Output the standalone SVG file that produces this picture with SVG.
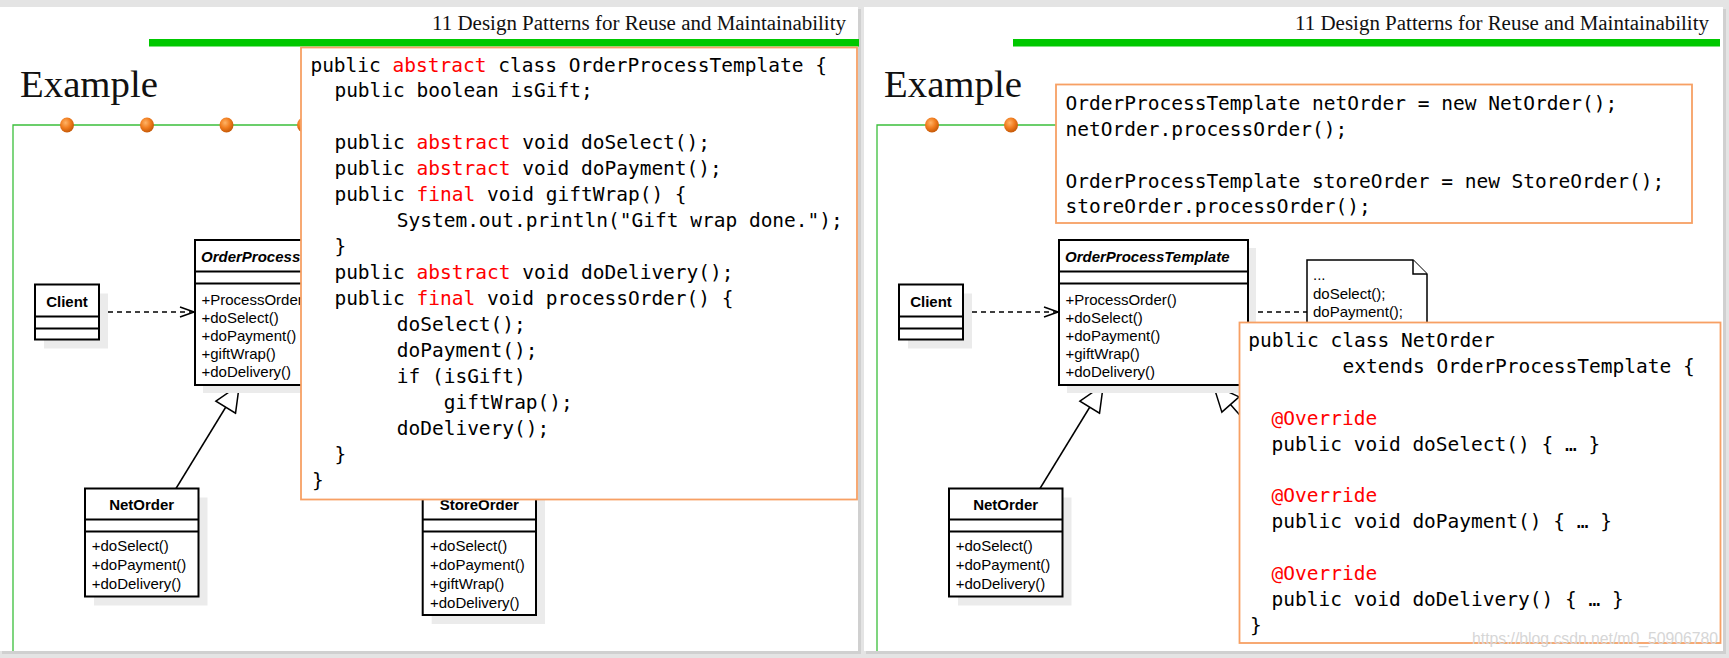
<svg xmlns="http://www.w3.org/2000/svg" width="1729" height="658" viewBox="0 0 1729 658">
<defs>
<radialGradient id="dotg" cx="40%" cy="35%" r="65%">
<stop offset="0" stop-color="#ffb366"/>
<stop offset="0.55" stop-color="#f07c1e"/>
<stop offset="1" stop-color="#c65a08"/>
</radialGradient>
<clipPath id="notcode">
<path d="M0,0 H1729 V658 H0 Z M301,47.5 V499.5 H857 V47.5 Z" clip-rule="evenodd"/>
</clipPath>
<marker id="open" markerUnits="userSpaceOnUse" markerWidth="16" markerHeight="12" viewBox="0 0 16 12" refX="15" refY="6" orient="auto">
<path d="M1,1 L15,6 L1,11" fill="none" stroke="#000" stroke-width="1.5"/>
</marker>
<marker id="tri" markerUnits="userSpaceOnUse" markerWidth="29" markerHeight="26" viewBox="0 0 29 26" refX="27.5" refY="13" orient="auto">
<path d="M1.5,1.5 L27.5,13 L1.5,24.5 Z" fill="#fff" stroke="#000" stroke-width="1.5"/>
</marker>
<style>
.panel{fill:#fff}
.pshadow{fill:#d0d0d0}
.hdr{font-family:"Liberation Serif","DejaVu Serif",serif;font-size:20px;fill:#111}
.ttl{font-family:"Liberation Serif","DejaVu Serif",serif;font-size:38px;fill:#111}
.gbar{fill:#00c800}
.gline{stroke:#3bbf3b;stroke-width:1.3;fill:none}
.dot{fill:url(#dotg)}
.codebox{fill:#fff;stroke:#f7a064;stroke-width:1.8}
.code{font-family:"DejaVu Sans Mono","Liberation Mono",monospace;font-size:19.5px;fill:#000}
.kw{fill:#ff0000}
.box{fill:#fff;stroke:#000;stroke-width:2}
.sep{stroke:#000;stroke-width:2}
.shd{fill:#ebebeb}
.t{font-family:"Liberation Sans",Arial,sans-serif;font-size:15px;fill:#000}
.b{font-weight:bold}
.bi{font-weight:bold;font-style:italic}
.conn{stroke:#000;stroke-width:1.5;fill:none}
.dash{stroke-dasharray:5 4}
.note{fill:#fff;stroke:#000;stroke-width:1.5}
.wm{font-family:"Liberation Sans",Arial,sans-serif;font-size:16px;fill:#d6d6d6}
</style>
</defs>

<rect x="0" y="0" width="1729" height="658" fill="#e4e4e4"/>
<rect class="pshadow" x="2" y="9" width="859" height="645"/>
<rect class="pshadow" x="866" y="9" width="860" height="645"/>
<rect class="panel" x="0" y="7" width="858" height="644"/>
<rect class="panel" x="864" y="7" width="859" height="644"/>

<!-- LEFT PANEL -->
<g id="left-header">
<text class="hdr" x="846" y="30" text-anchor="end" textLength="414" lengthAdjust="spacingAndGlyphs">11 Design Patterns for Reuse and Maintainability</text>
<rect class="gbar" x="149" y="39" width="710" height="7.5"/>
<text class="ttl" x="20" y="96.5" textLength="138" lengthAdjust="spacingAndGlyphs">Example</text>
<path class="gline" d="M13,651 V125 H304"/>
<ellipse class="dot" cx="67" cy="125" rx="7" ry="7.5"/>
<ellipse class="dot" cx="147" cy="125" rx="7" ry="7.5"/>
<ellipse class="dot" cx="226.5" cy="125" rx="7" ry="7.5"/>
<ellipse class="dot" cx="304" cy="125" rx="7" ry="7.5"/>
</g>

<g id="left-connectors">
<line class="conn dash" x1="99" y1="312" x2="194" y2="312" marker-end="url(#open)"/>
<line class="conn" x1="176" y1="488.5" x2="239.3" y2="385" marker-end="url(#tri)"/>
</g>

<g id="left-client">
<rect class="shd" x="44" y="293.5" width="64" height="55"/>
<rect class="box" x="35" y="284.5" width="64" height="55"/>
<line class="sep" x1="35" y1="316.5" x2="99" y2="316.5"/>
<line class="sep" x1="35" y1="328.5" x2="99" y2="328.5"/>
<text class="t b" x="67" y="307" text-anchor="middle">Client</text>
</g>

<g id="left-template" clip-path="url(#notcode)">
<rect class="shd" x="203" y="248" width="189" height="145"/>
<rect class="box" x="195" y="240" width="189" height="145"/>
<line class="sep" x1="195" y1="271.5" x2="384" y2="271.5"/>
<line class="sep" x1="195" y1="283.5" x2="384" y2="283.5"/>
<text class="t bi" x="201" y="262">OrderProcessTemplate</text>
<text class="t" x="201.5" y="304.5">+ProcessOrder()</text>
<text class="t" x="201.5" y="322.7">+doSelect()</text>
<text class="t" x="201.5" y="340.9">+doPayment()</text>
<text class="t" x="201.5" y="359.1">+giftWrap()</text>
<text class="t" x="201.5" y="377.3">+doDelivery()</text>
</g>

<g id="left-netorder">
<rect class="shd" x="94" y="497.5" width="113.5" height="108"/>
<rect class="box" x="85" y="488.5" width="113.5" height="108"/>
<line class="sep" x1="85" y1="519.5" x2="198.5" y2="519.5"/>
<line class="sep" x1="85" y1="531.5" x2="198.5" y2="531.5"/>
<text class="t b" x="141.7" y="510.4" text-anchor="middle">NetOrder</text>
<text class="t" x="91.7" y="551.4">+doSelect()</text>
<text class="t" x="91.7" y="570.3">+doPayment()</text>
<text class="t" x="91.7" y="589.2">+doDelivery()</text>
</g>

<g id="left-storeorder" clip-path="url(#notcode)">
<rect class="shd" x="431.7" y="497.5" width="113.3" height="126.5"/>
<rect class="box" x="422.7" y="488.5" width="113.3" height="126.5"/>
<line class="sep" x1="422.7" y1="519.5" x2="536" y2="519.5"/>
<line class="sep" x1="422.7" y1="531.5" x2="536" y2="531.5"/>
<text class="t b" x="479.3" y="510.4" text-anchor="middle">StoreOrder</text>
<text class="t" x="430" y="551.4">+doSelect()</text>
<text class="t" x="430" y="570.3">+doPayment()</text>
<text class="t" x="430" y="589.2">+giftWrap()</text>
<text class="t" x="430" y="608.1">+doDelivery()</text>
</g>

<g id="left-code">
<rect class="codebox" x="301" y="47.5" width="556" height="452"/>
<text class="code" xml:space="preserve" x="310.4" y="71.5">public <tspan class="kw">abstract</tspan> class OrderProcessTemplate {</text>
<text class="code" xml:space="preserve" x="334.4" y="97.4">public boolean isGift;</text>
<text class="code" xml:space="preserve" x="334.4" y="149.3">public <tspan class="kw">abstract</tspan> void doSelect();</text>
<text class="code" xml:space="preserve" x="334.4" y="175.3">public <tspan class="kw">abstract</tspan> void doPayment();</text>
<text class="code" xml:space="preserve" x="334.4" y="201.2">public <tspan class="kw">final</tspan> void giftWrap() {</text>
<text class="code" xml:space="preserve" x="396.7" y="227.1">System.out.println("Gift wrap done.");</text>
<text class="code" xml:space="preserve" x="334.4" y="253.1">}</text>
<text class="code" xml:space="preserve" x="334.4" y="279">public <tspan class="kw">abstract</tspan> void doDelivery();</text>
<text class="code" xml:space="preserve" x="334.4" y="305">public <tspan class="kw">final</tspan> void processOrder() {</text>
<text class="code" xml:space="preserve" x="396.7" y="330.9">doSelect();</text>
<text class="code" xml:space="preserve" x="396.7" y="356.8">doPayment();</text>
<text class="code" xml:space="preserve" x="396.7" y="382.8">if (isGift)</text>
<text class="code" xml:space="preserve" x="443.7" y="408.7">giftWrap();</text>
<text class="code" xml:space="preserve" x="396.7" y="434.6">doDelivery();</text>
<text class="code" xml:space="preserve" x="334.4" y="460.6">}</text>
<text class="code" xml:space="preserve" x="312" y="486.5">}</text>
</g>

<!-- RIGHT PANEL -->
<g id="right-header">
<text class="hdr" x="1709" y="30" text-anchor="end" textLength="414" lengthAdjust="spacingAndGlyphs">11 Design Patterns for Reuse and Maintainability</text>
<rect class="gbar" x="1013" y="39" width="707" height="7.5"/>
<text class="ttl" x="884" y="96.5" textLength="138" lengthAdjust="spacingAndGlyphs">Example</text>
<path class="gline" d="M877,651 V125 H1057"/>
<ellipse class="dot" cx="932" cy="125" rx="7" ry="7.5"/>
<ellipse class="dot" cx="1011" cy="125" rx="7" ry="7.5"/>
</g>

<g id="right-usage-code">
<rect class="codebox" x="1056" y="84.5" width="636" height="138.5"/>
<text class="code" xml:space="preserve" x="1065.5" y="109.8">OrderProcessTemplate netOrder = new NetOrder();</text>
<text class="code" xml:space="preserve" x="1065.5" y="135.7">netOrder.processOrder();</text>
<text class="code" xml:space="preserve" x="1065.5" y="187.5">OrderProcessTemplate storeOrder = new StoreOrder();</text>
<text class="code" xml:space="preserve" x="1065.5" y="213.4">storeOrder.processOrder();</text>
</g>

<g id="right-connectors">
<line class="conn dash" x1="963" y1="312" x2="1058" y2="312" marker-end="url(#open)"/>
<line class="conn" x1="1040" y1="488.5" x2="1103.3" y2="385" marker-end="url(#tri)"/>
<line class="conn" x1="1304" y1="488" x2="1213.3" y2="385" marker-end="url(#tri)"/>
<line class="conn dash" x1="1249" y1="312" x2="1307" y2="312"/>
</g>

<g id="right-client">
<rect class="shd" x="908" y="293.5" width="64" height="55"/>
<rect class="box" x="899" y="284.5" width="64" height="55"/>
<line class="sep" x1="899" y1="316.5" x2="963" y2="316.5"/>
<line class="sep" x1="899" y1="328.5" x2="963" y2="328.5"/>
<text class="t b" x="931" y="307" text-anchor="middle">Client</text>
</g>

<g id="right-template">
<rect class="shd" x="1067" y="248" width="189" height="145"/>
<rect class="box" x="1059" y="240" width="189" height="145"/>
<line class="sep" x1="1059" y1="271.5" x2="1248" y2="271.5"/>
<line class="sep" x1="1059" y1="283.5" x2="1248" y2="283.5"/>
<text class="t bi" x="1065" y="262">OrderProcessTemplate</text>
<text class="t" x="1065.5" y="304.5">+ProcessOrder()</text>
<text class="t" x="1065.5" y="322.7">+doSelect()</text>
<text class="t" x="1065.5" y="340.9">+doPayment()</text>
<text class="t" x="1065.5" y="359.1">+giftWrap()</text>
<text class="t" x="1065.5" y="377.3">+doDelivery()</text>
</g>

<g id="right-note">
<path class="note" d="M1307,345 V260 H1413 L1427,274 V345 Z"/>
<path class="note" d="M1413,260 V274 H1427"/>
<text class="t" x="1313" y="280">...</text>
<text class="t" x="1313" y="299">doSelect();</text>
<text class="t" x="1313" y="317">doPayment();</text>
</g>

<g id="right-netorder">
<rect class="shd" x="958" y="497.5" width="113.5" height="108"/>
<rect class="box" x="949" y="488.5" width="113.5" height="108"/>
<line class="sep" x1="949" y1="519.5" x2="1062.5" y2="519.5"/>
<line class="sep" x1="949" y1="531.5" x2="1062.5" y2="531.5"/>
<text class="t b" x="1005.7" y="510.4" text-anchor="middle">NetOrder</text>
<text class="t" x="955.7" y="551.4">+doSelect()</text>
<text class="t" x="955.7" y="570.3">+doPayment()</text>
<text class="t" x="955.7" y="589.2">+doDelivery()</text>
</g>

<g id="right-netorder-code">
<rect class="codebox" x="1239.5" y="322.5" width="481" height="320.5"/>
<text class="code" xml:space="preserve" x="1248.3" y="347.2">public class NetOrder</text>
<text class="code" xml:space="preserve" x="1342.5" y="373">extends OrderProcessTemplate {</text>
<text class="code kw" xml:space="preserve" x="1271.5" y="424.8">@Override</text>
<text class="code" xml:space="preserve" x="1271.5" y="450.6">public void doSelect() { … }</text>
<text class="code kw" xml:space="preserve" x="1271.5" y="502.3">@Override</text>
<text class="code" xml:space="preserve" x="1271.5" y="528.2">public void doPayment() { … }</text>
<text class="code kw" xml:space="preserve" x="1271.5" y="579.9">@Override</text>
<text class="code" xml:space="preserve" x="1271.5" y="605.7">public void doDelivery() { … }</text>
<text class="code" xml:space="preserve" x="1250" y="631.6">}</text>
<text class="wm" x="1472" y="644" textLength="246" lengthAdjust="spacingAndGlyphs">https://blog.csdn.net/m0_50906780</text>
</g>
</svg>
